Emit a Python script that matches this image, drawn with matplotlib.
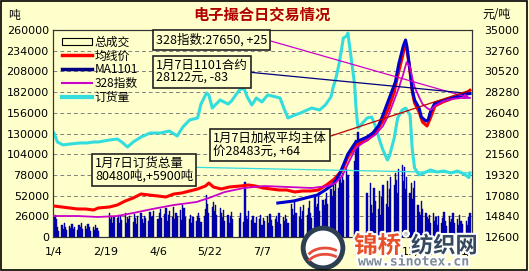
import pandas as pd
import numpy as np
import matplotlib
matplotlib.use("Agg")
import matplotlib.pyplot as plt
import matplotlib.dates as mdates
import matplotlib.patheffects as pe
from matplotlib.patches import Patch, Circle, Rectangle, Arc
from matplotlib.lines import Line2D

plt.rcParams["font.family"] = ["Noto Sans CJK SC", "DejaVu Sans"]

# -----------------------------
# Data
# -----------------------------
holidays = ["2010-02-15", "2010-02-16", "2010-02-17", "2010-02-18", "2010-02-19",
            "2010-04-05", "2010-05-03", "2010-06-14", "2010-06-15", "2010-06-16",
            "2010-09-22", "2010-09-23", "2010-09-24", "2010-10-01", "2010-10-04",
            "2010-10-05", "2010-10-06", "2010-10-07", "2011-01-03"]

# 总成交 (k tons), one value per trading day, month by month
vol_jan = [25, 28, 22, 12, 8, 15, 10, 18, 12, 9, 14, 11, 16, 10, 13, 9, 15, 12, 17, 10]
vol_feb = [14, 10, 16, 12, 8, 13, 9, 15, 11, 7, 30, 22, 27, 18, 25]
vol_mar = [24, 28, 18, 26, 21, 30, 17, 25, 22, 27, 19, 29, 24, 16, 26, 30, 22, 18, 27, 24, 20, 31, 25]
vol_apr = [26, 33, 22, 30, 35, 24, 29, 36, 20, 28, 33, 25, 38, 22, 30, 27, 34, 21, 40, 36, 25]
vol_may = [22, 28, 18, 25, 20, 26, 30, 24, 19, 27, 35, 53, 42, 30, 38, 44, 33, 40, 28, 36]
vol_jun = [30, 25, 34, 20, 28, 18, 26, 32, 22, 24, 30, 19, 69, 27, 22, 33, 21, 26, 18]
vol_jul = [18, 25, 22, 28, 15, 24, 20, 26, 17, 29, 21, 14, 23, 27, 19, 30, 16, 25, 20, 28, 22, 18]
vol_aug = [42, 35, 28, 45, 30, 25, 38, 22, 33, 40, 28, 36, 45, 30, 24, 50, 38, 42, 55, 33, 47, 40]
vol_sep = [48, 55, 42, 60, 52, 65, 58, 70, 62, 75, 68, 80, 72, 85, 78, 95, 122, 110, 132]
vol_oct = [55, 68, 40, 30, 62, 45, 35, 58, 28, 50, 65, 42, 70, 38, 60, 75]
vol_nov = [65, 80, 72, 55, 85, 90, 70, 88, 60, 75, 55, 68, 48, 62, 70, 40, 32, 28, 45, 35, 30, 25]
vol_dec = [22, 28, 18, 30, 20, 25, 15, 27, 18, 24, 32, 20, 14, 26, 19, 23, 30, 17, 22, 15, 28, 20, 16]
vol_jan11 = [20, 15, 25, 30]

# 订货量 (tons)
order_dates = ["2010-01-04", "2010-01-07", "2010-01-12", "2010-01-18", "2010-01-27", "2010-02-02",
               "2010-02-08", "2010-02-12", "2010-02-22", "2010-03-01", "2010-03-05", "2010-03-10",
               "2010-03-15", "2010-03-22", "2010-03-30", "2010-04-08", "2010-04-16", "2010-04-23",
               "2010-04-28", "2010-05-04", "2010-05-11", "2010-05-14", "2010-05-19", "2010-05-21",
               "2010-05-24", "2010-05-31", "2010-06-07", "2010-06-10", "2010-06-17", "2010-06-21",
               "2010-06-24", "2010-06-28", "2010-07-02", "2010-07-07", "2010-07-12", "2010-07-16",
               "2010-07-23", "2010-07-27", "2010-07-30", "2010-08-05", "2010-08-10", "2010-08-16",
               "2010-08-20", "2010-08-27", "2010-09-01", "2010-09-06", "2010-09-08", "2010-09-10",
               "2010-09-13", "2010-09-16", "2010-09-17", "2010-09-20", "2010-09-21", "2010-09-27",
               "2010-09-28", "2010-09-29", "2010-09-30", "2010-10-08", "2010-10-12", "2010-10-15",
               "2010-10-19", "2010-10-22", "2010-10-26", "2010-10-28", "2010-11-01", "2010-11-04",
               "2010-11-08", "2010-11-11", "2010-11-15", "2010-11-17", "2010-11-19", "2010-11-23",
               "2010-11-29", "2010-12-03", "2010-12-09", "2010-12-15", "2010-12-21", "2010-12-27",
               "2010-12-31", "2011-01-05", "2011-01-06", "2011-01-07"]
order_vals = [130600, 119300, 115600, 116800, 118100, 118100, 119300, 119300, 121800, 123100,
              119300, 113000, 119300, 125600, 130600, 130600, 133100, 126900, 138200, 147000,
              149500, 167000, 180900, 178400, 162000, 172100, 167000, 170800, 184600, 187100,
              175800, 165800, 174600, 169600, 178400, 177100, 174600, 159500, 149500, 153200,
              155700, 159500, 162000, 159500, 165800, 175800, 188400, 197200, 216000, 241200,
              249900, 252500, 256200, 190900, 165800, 149500, 136900, 149500, 150700, 140700,
              121800, 109300, 96700, 103000, 124300, 149500, 159500, 162000, 153200, 109300,
              86700, 77900, 81600, 84200, 81600, 82900, 80400, 82900, 80400, 76000, 74580, 80480]

# 均线价 (yuan/ton)
avg_dates = ["2010-01-04", "2010-01-11", "2010-01-18", "2010-01-25", "2010-02-01", "2010-02-08",
             "2010-02-12", "2010-02-22", "2010-03-01", "2010-03-08", "2010-03-15", "2010-03-22",
             "2010-03-29", "2010-04-06", "2010-04-13", "2010-04-20", "2010-04-27", "2010-05-04",
             "2010-05-11", "2010-05-18", "2010-05-21", "2010-05-25", "2010-06-01", "2010-06-08",
             "2010-06-18", "2010-06-25", "2010-07-01", "2010-07-08", "2010-07-15", "2010-07-22",
             "2010-07-29", "2010-08-05", "2010-08-12", "2010-08-19", "2010-08-26", "2010-09-02",
             "2010-09-09", "2010-09-16", "2010-09-21", "2010-09-28", "2010-10-08", "2010-10-15",
             "2010-10-22", "2010-10-27", "2010-11-01", "2010-11-04", "2010-11-08", "2010-11-10",
             "2010-11-12", "2010-11-15", "2010-11-17", "2010-11-19", "2010-11-23", "2010-11-26",
             "2010-11-30", "2010-12-03", "2010-12-07", "2010-12-14", "2010-12-21", "2010-12-28",
             "2011-01-04", "2011-01-07"]
avg_vals = [15954, 15846, 15738, 15630, 15630, 15521, 15738, 15846, 16063, 16496, 16820, 17253,
            17145, 17037, 16928, 17253, 17361, 17578, 17794, 18119, 18443, 18011, 17794, 18011,
            18119, 18227, 18119, 17902, 17794, 17686, 17686, 17469, 17578, 17578, 17686, 18227,
            18876, 19850, 21257, 22555, 23096, 23854, 25152, 26559, 28290, 30022, 31970, 33052,
            33160, 30455, 28290, 27100, 26126, 25044, 24611, 25477, 26776, 27209, 27533, 27858,
            28182, 28483]

# MA1101 (yuan/ton)
ma_dates = ["2010-07-21", "2010-07-28", "2010-08-04", "2010-08-11", "2010-08-18", "2010-08-25",
            "2010-09-01", "2010-09-07", "2010-09-10", "2010-09-14", "2010-09-17", "2010-09-21",
            "2010-09-28", "2010-10-08", "2010-10-13", "2010-10-18", "2010-10-21", "2010-10-26",
            "2010-10-29", "2010-11-02", "2010-11-05", "2010-11-09", "2010-11-11", "2010-11-12",
            "2010-11-15", "2010-11-17", "2010-11-19", "2010-11-23", "2010-11-25", "2010-11-29",
            "2010-12-01", "2010-12-03", "2010-12-07", "2010-12-10", "2010-12-16", "2010-12-22",
            "2010-12-29", "2011-01-04", "2011-01-07"]
ma_vals = [16279, 16387, 16496, 16712, 16928, 17145, 17686, 18227, 18660, 19525, 20391, 21581,
           22880, 23421, 23854, 24611, 25477, 27100, 28074, 29373, 31320, 33268, 33918, 33376,
           30671, 28506, 27424, 26559, 25585, 25152, 25260, 26126, 27100, 27209, 27424, 27641,
           27858, 28074, 28122]

# 328指数
idx_dates = ["2010-01-04", "2010-01-25", "2010-02-12", "2010-03-01", "2010-03-15", "2010-04-01",
             "2010-04-20", "2010-05-10", "2010-05-21", "2010-06-04", "2010-06-21", "2010-07-09",
             "2010-07-30", "2010-08-20", "2010-09-03", "2010-09-10", "2010-09-16", "2010-09-21",
             "2010-09-28", "2010-10-08", "2010-10-15", "2010-10-22", "2010-10-27", "2010-11-01",
             "2010-11-05", "2010-11-09", "2010-11-12", "2010-11-15", "2010-11-17", "2010-11-19",
             "2010-11-23", "2010-11-26", "2010-11-30", "2010-12-03", "2010-12-08", "2010-12-15",
             "2010-12-22", "2010-12-30", "2011-01-07"]
idx_vals = [14872, 14872, 14764, 14872, 15197, 15630, 16063, 16387, 16820, 17469, 17902, 18119,
            18011, 17902, 18119, 18443, 19201, 20499, 22231, 23096, 23637, 24611, 25802, 27424,
            28723, 30238, 31537, 31000, 29805, 28831, 27749, 26992, 26559, 26343, 26884, 27317,
            27533, 27641, 27650]

tick_dates = ["2010-01-04", "2010-02-19", "2010-04-06", "2010-05-22", "2010-07-07",
              "2010-08-22", "2010-10-07", "2010-11-22", "2011-01-07"]
tick_labels = ["1/4", "2/19", "4/6", "5/22", "7/7", "8/22", "10/7", "11/22", "1/7"]
left_ticks = list(range(0, 260001, 26000))
right_ticks = list(range(12600, 35001, 2240))

# -----------------------------
# Styles
# -----------------------------
BG = "#FFFFCC"
C_BAR = "#0000CC"
C_RED = "#FF0000"
C_BLUE = "#0000CC"
C_NAVY = "#000080"
C_MAG = "#CC00CC"
C_CYAN = "#33DDDD"

trade_days = pd.bdate_range("2010-01-04", "2011-01-07").difference(pd.to_datetime(holidays))
volume = np.array(vol_jan + vol_feb + vol_mar + vol_apr + vol_may + vol_jun + vol_jul
                  + vol_aug + vol_sep + vol_oct + vol_nov + vol_dec + vol_jan11) * 1000

fig = plt.figure(figsize=(5.29, 2.71), dpi=100, facecolor=BG)
ax = fig.add_axes([53 / 529, 34 / 271, 419 / 529, 207 / 271])
ax.set_facecolor(BG)
ax2 = ax.twinx()

# bars + order volume on left axis
ax.bar(trade_days, volume, width=1.1, color=C_BAR, edgecolor="#000080", linewidth=0.3, zorder=2)
ax.plot(pd.to_datetime(order_dates), order_vals, color=C_CYAN, lw=2.2, zorder=3)

# prices on right axis
ax2.plot(pd.to_datetime(avg_dates), avg_vals, color=C_RED, lw=2.2, zorder=3)
ax2.plot(pd.to_datetime(ma_dates), ma_vals, color=C_BLUE, lw=2.2, zorder=4)
ax2.plot(pd.to_datetime(idx_dates), idx_vals, color=C_MAG, lw=1.3, zorder=5)

x0 = mdates.date2num(pd.Timestamp("2010-01-04"))
ax.set_xlim(x0 - 0.9, x0 + 369.8)
ax.set_ylim(0, 260000)
ax2.set_ylim(12600, 35000)

ax.set_yticks(left_ticks)
ax.set_yticklabels([str(v) for v in left_ticks])
ax2.set_yticks(right_ticks)
ax2.set_yticklabels([str(v) for v in right_ticks])
ax.set_xticks(pd.to_datetime(tick_dates))
ax.set_xticklabels(tick_labels)

for a in (ax, ax2):
    for lab in a.get_xticklabels() + a.get_yticklabels():
        lab.set_fontfamily("DejaVu Sans")
        lab.set_fontsize(8)
    for s in a.spines.values():
        s.set_color("#333333")
        s.set_linewidth(0.8)
ax.tick_params(axis="y", length=0, pad=3)
ax2.tick_params(axis="y", length=0, pad=9)
ax.tick_params(axis="x", length=0, pad=7)

ax.yaxis.grid(True, color="#808080", linestyle=(0, (4, 3)), linewidth=0.7)
ax.set_axisbelow(True)

# -----------------------------
# Legend
# -----------------------------
handles = [
    Patch(facecolor=BG, edgecolor="black", linewidth=0.8),
    Line2D([], [], color=C_RED, lw=2.5),
    Line2D([], [], color=C_NAVY, lw=2.5),
    Line2D([], [], color=C_MAG, lw=1.5),
    Line2D([], [], color=C_CYAN, lw=3),
]
labels = ["总成交", "均线价", "MA1101", "328指数", "订货量"]
ax2.legend(handles, labels, loc="upper left", bbox_to_anchor=(0.015, 0.985), frameon=False,
           fontsize=8.5, handlelength=2.6, handleheight=0.6, handletextpad=0.2,
           labelspacing=0.08, borderaxespad=0, borderpad=0.2)

# -----------------------------
# Callouts
# -----------------------------
box = dict(boxstyle="square,pad=0.25", fc=BG, ec="#222222", lw=1.2)
end = pd.Timestamp("2011-01-07")
ax2.annotate("328指数:27650, +25", xy=(end, idx_vals[-1]), xytext=(0.245, 0.952),
             textcoords="axes fraction", ha="left", va="center", fontsize=9, bbox=box,
             arrowprops=dict(arrowstyle="-|>", color=C_MAG, lw=0.9, relpos=(1, 0.5),
                             shrinkA=0, shrinkB=0, mutation_scale=8), zorder=6)
ax2.annotate("1月7日1101合约\n28122元, -83", xy=(end, ma_vals[-1]), xytext=(0.245, 0.797),
             textcoords="axes fraction", ha="left", va="center", fontsize=9, bbox=box,
             linespacing=1.0,
             arrowprops=dict(arrowstyle="-", color=C_NAVY, lw=0.9, relpos=(1, 0.5),
                             shrinkA=0, shrinkB=0), zorder=6)
ax2.annotate("1月7日加权平均主体\n价28483元, +64", xy=(end, avg_vals[-1]), xytext=(0.382, 0.444),
             textcoords="axes fraction", ha="left", va="center", fontsize=9, bbox=box,
             linespacing=1.0,
             arrowprops=dict(arrowstyle="-", color="#C00000", lw=0.9, relpos=(1, 0.8),
                             shrinkA=0, shrinkB=0), zorder=6)
ax2.annotate("1月7日订货总量\n80480吨,+5900吨",
             xy=(end, 12600 + order_vals[-1] / 260000 * 22400), xytext=(0.100, 0.324),
             textcoords="axes fraction", ha="left", va="center", fontsize=9, bbox=box,
             linespacing=1.0,
             arrowprops=dict(arrowstyle="-", color=C_CYAN, lw=0.9, relpos=(1, 0.6),
                             shrinkA=0, shrinkB=0), zorder=6)

# -----------------------------
# Titles / units
# -----------------------------
fig.text(0.496, 1 - 15 / 271, "电子撮合日交易情况", ha="center", va="center",
         fontsize=11, fontweight="bold", color="#B00000")
fig.text(8 / 529, 1 - 15 / 271, "吨", ha="left", va="center", fontsize=8.5)
fig.text(482 / 529, 1 - 15 / 271, "元/吨", ha="left", va="center", fontsize=8.5)

# -----------------------------
# Watermark
# -----------------------------
glow = [pe.withStroke(linewidth=3, foreground="white")]
fig.text(354 / 529, 1 - 246 / 271, "锦桥", ha="left", va="center", fontsize=17,
         fontweight="bold", color="#E8502A", path_effects=glow, zorder=20)
fig.text(404 / 529, 1 - 236 / 271, "®", ha="left", va="center", fontsize=6,
         color="#888888", path_effects=glow, zorder=20)
fig.text(411 / 529, 1 - 246 / 271, "纺织网", ha="left", va="center", fontsize=16,
         fontweight="bold", color="#34495E", path_effects=glow, zorder=20)
fig.text(414 / 529, 1 - 262 / 271, "www.sinotex.cn", ha="center", va="center",
         fontsize=9.5, fontfamily="DejaVu Sans Mono", fontweight="bold", color="#7F8C9A",
         path_effects=glow, zorder=20)

logo = fig.add_axes([300 / 529, 0, 46 / 529, 46 / 271])
logo.set_xlim(-1.1, 1.1)
logo.set_ylim(-1.1, 1.1)
logo.set_aspect("equal")
logo.axis("off")
logo.add_patch(Circle((0, 0), 0.95, fc="white", ec="#2C3E50", lw=3.5))
logo.add_patch(Arc((0.1, -0.6), 1.8, 1.2, theta1=40, theta2=160, color="#E74C3C", lw=2))
logo.add_patch(Arc((0.1, -0.9), 1.8, 1.2, theta1=40, theta2=160, color="#E74C3C", lw=2))

# outer frame
fig.patches.append(Rectangle((0.002, 0.004), 0.994, 0.992, transform=fig.transFigure,
                             fill=False, ec="black", lw=1.2))

fig.savefig("out.png", dpi=100, facecolor=BG)
